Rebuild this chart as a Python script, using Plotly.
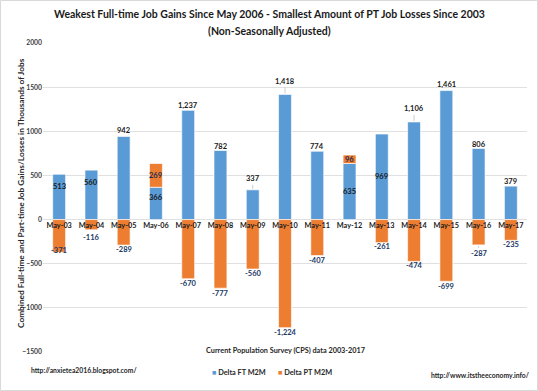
import plotly.graph_objects as go

# ---------------- data ----------------
categories = ["May-03", "May-04", "May-05", "May-06", "May-07", "May-08", "May-09", "May-10",
              "May-11", "May-12", "May-13", "May-14", "May-15", "May-16", "May-17"]
ft_values = [513, 560, 942, 366, 1237, 782, 337, 1418, 774, 635, 969, 1106, 1461, 806, 379]
pt_values = [-371, -116, -289, 269, -670, -777, -560, -1224, -407, 96, -261, -474, -699, -287, -235]
y_ticks = [-1500, -1000, -500, 0, 500, 1000, 1500, 2000]
series_names = ["Delta FT M2M", "Delta PT M2M"]

# ---------------- styling ----------------
W, H = 538, 391
ML, MR, MT, MB = 43, 11, 43, 39
PW, PH = W - ML - MR, H - MT - MB
FONT = "Lato"
BLUE = "#5B9BD5"
ORANGE = "#ED7D31"
NAVY = "#203864"
DARK = "#262626"

# label placement modes (styling only)
ft_mode = ['in', 'in', 'out', 'in', 'out', 'out', 'lead', 'lead', 'out', 'mid', 'mid', 'lead', 'out', 'out', 'out']
ft_shift = [-12, -12, 6, -10, 5, 4, -11, -13, 5, 0, 0, -13, 6, 4, 5]
pt_mode = ['end', 'end', 'end', 'mid', 'end', 'end', 'end', 'end', 'end', 'mid', 'end', 'end', 'end', 'lead', 'end']
pt_shift = [2, -8, -4.5, 0, -4.5, -5.5, -4, -5, -4.5, 0, -3.5, -4.5, -5.5, 9, -4]


def px_x(p):
    return (p - ML) / PW


def px_y(p):
    return (MT + PH - p) / PH


def fnt(size, color=DARK):
    return dict(family=FONT, size=size, color=color, weight=700)


fig = go.Figure()
fig.add_trace(go.Bar(x=categories, y=ft_values, name=series_names[0],
                     marker=dict(color=BLUE, line=dict(color="rgba(255,255,255,0.8)", width=0.8)),
                     width=0.4, showlegend=False))
fig.add_trace(go.Bar(x=categories, y=pt_values, name=series_names[1],
                     marker=dict(color=ORANGE, line=dict(color="rgba(255,255,255,0.8)", width=0.8)),
                     width=0.4, showlegend=False))

annotations = []
lab_font_ft = fnt(7.5, "#1a1a1a")
lab_font_pt = fnt(7.5, NAVY)

for c, v, m, s in zip(categories, ft_values, ft_mode, ft_shift):
    txt = "{:,}".format(v)
    if m == 'mid':
        annotations.append(dict(x=c, y=v / 2, text=txt, showarrow=False, font=lab_font_ft,
                                xref='x', yref='y', yanchor='middle'))
    elif m == 'lead':
        annotations.append(dict(x=c, y=v, text=txt, showarrow=True, arrowhead=0, arrowwidth=0.8,
                                arrowcolor="#bfbfbf", ax=0, ay=s, font=lab_font_ft,
                                xref='x', yref='y', standoff=1))
    else:
        annotations.append(dict(x=c, y=v, text=txt, showarrow=False, font=lab_font_ft,
                                xref='x', yref='y', yanchor='middle', yshift=s))

for c, f, v, m, s in zip(categories, ft_values, pt_values, pt_mode, pt_shift):
    txt = "{:,}".format(v)
    if m == 'mid':
        annotations.append(dict(x=c, y=f + v / 2, text=txt, showarrow=False,
                                font=fnt(7.5, "#1f2d50"),
                                xref='x', yref='y', yanchor='middle'))
    elif m == 'lead':
        annotations.append(dict(x=c, y=v, text=txt, showarrow=True, arrowhead=0, arrowwidth=0.8,
                                arrowcolor="#bfbfbf", ax=0, ay=s, font=lab_font_pt,
                                xref='x', yref='y', standoff=1))
    else:
        annotations.append(dict(x=c, y=v, text=txt, showarrow=False, font=lab_font_pt,
                                xref='x', yref='y', yanchor='middle', yshift=s))

# title
annotations.append(dict(x=px_x(269), y=px_y(14), xref='paper', yref='paper', showarrow=False,
                        text="Weakest Full-time Job Gains Since May 2006 - Smallest Amount of PT Job Losses Since 2003",
                        font=fnt(10.5, "#1a1a1a"), yanchor='middle'))
annotations.append(dict(x=px_x(269), y=px_y(31), xref='paper', yref='paper', showarrow=False,
                        text="(Non-Seasonally Adjusted)",
                        font=fnt(10.5, "#1a1a1a"), yanchor='middle'))
# axis titles and footers
annotations.append(dict(x=px_x(14), y=px_y(193), xref='paper', yref='paper', showarrow=False,
                        text="Combined Full-time and Part-time Job Gains/Losses in Thousands of Jobs",
                        textangle=-90, font=fnt(8.3)))
annotations.append(dict(x=px_x(285), y=px_y(357), xref='paper', yref='paper', showarrow=False,
                        text="Current Population Survey (CPS) data 2003-2017", font=fnt(7.3)))
annotations.append(dict(x=px_x(29), y=px_y(376), xref='paper', yref='paper', showarrow=False,
                        xanchor='left', text="http://anxietea2016.blogspot.com/", font=fnt(6.8)))
annotations.append(dict(x=px_x(531), y=px_y(380.5), xref='paper', yref='paper', showarrow=False,
                        xanchor='right', text="http://www.itstheeconomy.info/", font=fnt(6.8)))
# manual legend
annotations.append(dict(x=px_x(210), y=px_y(378.5), xref='paper', yref='paper', showarrow=False,
                        xanchor='left', text="<span style='color:%s'>■</span> %s" % (BLUE, series_names[0]),
                        font=fnt(7.3)))
annotations.append(dict(x=px_x(276), y=px_y(378.5), xref='paper', yref='paper', showarrow=False,
                        xanchor='left', text="<span style='color:%s'>■</span> %s" % (ORANGE, series_names[1]),
                        font=fnt(7.3)))

fig.update_layout(
    width=W, height=H,
    margin=dict(l=ML, r=MR, t=MT, b=MB, autoexpand=False),
    paper_bgcolor="white", plot_bgcolor="white",
    barmode="relative",
    font=dict(family=FONT),
    showlegend=False,
    annotations=annotations,
    shapes=[dict(type='rect', xref='paper', yref='paper',
                 x0=px_x(0.5), x1=px_x(W - 0.5), y0=px_y(H - 0.5), y1=px_y(0.5),
                 line=dict(color="#d9d9d9", width=1))],
)
fig.update_xaxes(type='category', anchor='free', position=1500 / 3500, showline=False, ticks='',
                 showgrid=False, tickfont=fnt(7.3, "#1a1a1a"))
fig.update_yaxes(range=[-1500, 2000], tickvals=y_ticks, showgrid=True, gridcolor="#e0e0e0",
                 gridwidth=1, zeroline=False, showline=False, ticks='',
                 tickfont=fnt(6.8, "#404040"))

fig.write_html("out.html", config={"displayModeBar": False},
               post_script="document.body.style.margin='0px';document.body.style.overflow='hidden';")
